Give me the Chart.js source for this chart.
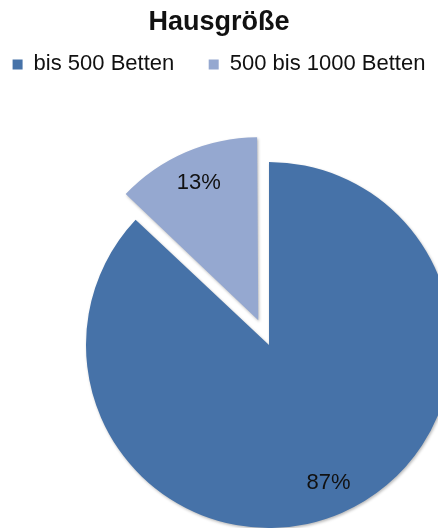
<!DOCTYPE html>
<html>
<head>
<meta charset="utf-8">
<script src="https://cdn.jsdelivr.net/npm/chart.js@4/dist/chart.umd.min.js"></script>
<style>
  html, body { margin: 0; padding: 0; background: #fff; overflow: hidden; }
  #wrap { position: relative; width: 438px; height: 528px; }
</style>
</head>
<body>
<div id="wrap"><canvas id="pie" width="438" height="528"></canvas></div>
<script>
// Daten
const categories = ['bis 500 Betten', '500 bis 1000 Betten'];
const values = [87, 13];
const colors = ['#4672A8', '#95A8D0'];

const FONT = '"Liberation Sans", Arial, sans-serif';

// Kreismittelpunkt und Radius wie im Original (rechts abgeschnitten)
const pieCenter = { x: 269, y: 345 };
const pieRadius = 183;
const explode = 27; // Verschiebung des kleinen Segments in px

// Diagrammbereich fest setzen, damit der Kreis rechts aus dem Bild läuft
const placePie = {
    id: 'placePie',
    afterLayout(chart) {
        chart.chartArea = {
            left: pieCenter.x - pieRadius,
            right: pieCenter.x + pieRadius,
            top: pieCenter.y - pieRadius,
            bottom: pieCenter.y + pieRadius,
            width: pieRadius * 2,
            height: pieRadius * 2
        };
    },
    // Chart.js vergrößert herausgezogene Segmente etwas, das wieder ausgleichen
    afterDatasetsUpdate(chart) {
        chart.getDatasetMeta(0).data.forEach(arc => {
            const off = (arc.options.offset || 0) / 4;
            const fix = 1 - Math.sin(Math.min(Math.PI, arc.circumference || 0));
            arc.outerRadius = pieRadius - off * fix;
        });
    }
};

// leichter Schatten unter den Segmenten
const shadow = {
    id: 'shadow',
    beforeDatasetsDraw(chart) {
        const ctx = chart.ctx;
        ctx.save();
        ctx.shadowColor = 'rgba(0,0,0,0.28)';
        ctx.shadowBlur = 3;
        ctx.shadowOffsetX = 1;
        ctx.shadowOffsetY = 1.5;
    },
    afterDatasetsDraw(chart) {
        chart.ctx.restore();
    }
};

// Prozentwerte in die Segmente schreiben
const percentLabels = {
    id: 'percentLabels',
    afterDatasetsDraw(chart) {
        const ctx = chart.ctx;
        const meta = chart.getDatasetMeta(0);
        const total = values.reduce((a, b) => a + b, 0);
        ctx.save();
        ctx.font = '22px ' + FONT;
        ctx.fillStyle = '#111';
        ctx.textAlign = 'center';
        ctx.textBaseline = 'middle';
        meta.data.forEach((arc, i) => {
            const mid = (arc.startAngle + arc.endAngle) / 2;
            const off = (arc.options.offset || 0) / 4;
            const r = pieRadius * 0.82 + off;
            const x = arc.x + Math.cos(mid) * r;
            const y = arc.y + Math.sin(mid) * r;
            ctx.fillText(Math.round(values[i] / total * 100) + '%', x, y);
        });
        ctx.restore();
    }
};

new Chart(document.getElementById('pie'), {
    type: 'pie',
    data: {
        labels: categories,
        datasets: [{
            data: values,
            backgroundColor: colors,
            borderWidth: 0,
            offset: [0, explode * 4],
            radius: pieRadius,
            clip: false
        }]
    },
    options: {
        responsive: false,
        animation: false,
        devicePixelRatio: 1,
        events: [],
        layout: { padding: 0 },
        plugins: {
            title: {
                display: true,
                text: 'Hausgröße',
                color: '#111',
                font: { family: FONT, size: 27, weight: 'bold' },
                padding: { top: 6, bottom: 5 }
            },
            legend: {
                display: true,
                position: 'top',
                labels: {
                    color: '#111',
                    font: { family: FONT, size: 22 },
                    boxWidth: 10,
                    boxHeight: 10,
                    padding: 10,
                    // etwas Abstand zwischen den beiden Einträgen
                    generateLabels(chart) {
                        const items = Chart.controllers.pie.overrides.plugins.legend.labels.generateLabels(chart);
                        items.forEach((it, i) => {
                            it.lineWidth = 0;
                            if (i < items.length - 1) it.text = it.text + '    ';
                        });
                        return items;
                    }
                }
            },
            tooltip: { enabled: false }
        }
    },
    plugins: [placePie, shadow, percentLabels]
});
</script>
</body>
</html>
